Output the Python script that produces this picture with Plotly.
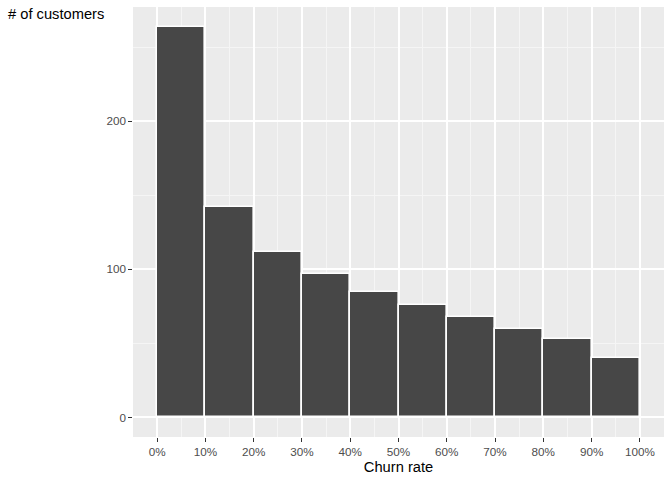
import plotly.graph_objects as go

bin_start = [0.0, 0.1, 0.2, 0.3, 0.4, 0.5, 0.6, 0.7, 0.8, 0.9]
bin_width = 0.1
counts = [264, 142, 112, 97, 85, 76, 68, 60, 53, 40]
x_ticks = [0.0, 0.1, 0.2, 0.3, 0.4, 0.5, 0.6, 0.7, 0.8, 0.9, 1.0]
x_tick_labels = ["0%", "10%", "20%", "30%", "40%", "50%", "60%", "70%", "80%", "90%", "100%"]
y_ticks = [0, 100, 200]

fig = go.Figure()
fig.add_trace(go.Bar(
    x=bin_start,
    y=counts,
    width=[bin_width] * len(bin_start),
    offset=0,
    marker=dict(color="#474747", line=dict(color="white", width=1.6)),
    hoverinfo="x+y",
))

ymax = max(counts)
fig.update_layout(
    width=672, height=480,
    margin=dict(l=133, r=8, t=7, b=43),
    paper_bgcolor="white",
    plot_bgcolor="#EBEBEB",
    showlegend=False,
    bargap=0,
    font=dict(family="Liberation Sans, Arial, sans-serif", color="#4D4D4D", size=11.7),
    xaxis=dict(
        range=[-0.05, 1.05],
        tickvals=x_ticks, ticktext=x_tick_labels,
        showgrid=True, gridcolor="white", gridwidth=1.6,
        minor=dict(dtick=0.05, tick0=0.05, showgrid=True, gridcolor="#F5F5F5", gridwidth=0.8, ticks=""),
        zeroline=False, showline=False,
        ticks="outside", ticklen=3.7, tickwidth=1, tickcolor="#333333",
        tickfont=dict(size=11.7, color="#4D4D4D"),
        title=dict(text="Churn rate", font=dict(size=14.7, color="black"), standoff=4),
    ),
    yaxis=dict(
        range=[-0.05 * ymax, 1.05 * ymax],
        tickvals=y_ticks,
        showgrid=True, gridcolor="white", gridwidth=1.6,
        minor=dict(dtick=50, tick0=50, showgrid=True, gridcolor="#F5F5F5", gridwidth=0.8, ticks=""),
        zeroline=False, showline=False,
        ticks="outside", ticklen=3.7, tickwidth=1, tickcolor="#333333",
        tickfont=dict(size=11.7, color="#4D4D4D"),
    ),
    annotations=[dict(
        text="# of customers", xref="paper", yref="paper",
        x=-133/531, y=1.0, xanchor="left", yanchor="top",
        xshift=6, yshift=3,
        showarrow=False, font=dict(size=14.7, color="black"),
    )],
)

fig.write_html("out.html")
